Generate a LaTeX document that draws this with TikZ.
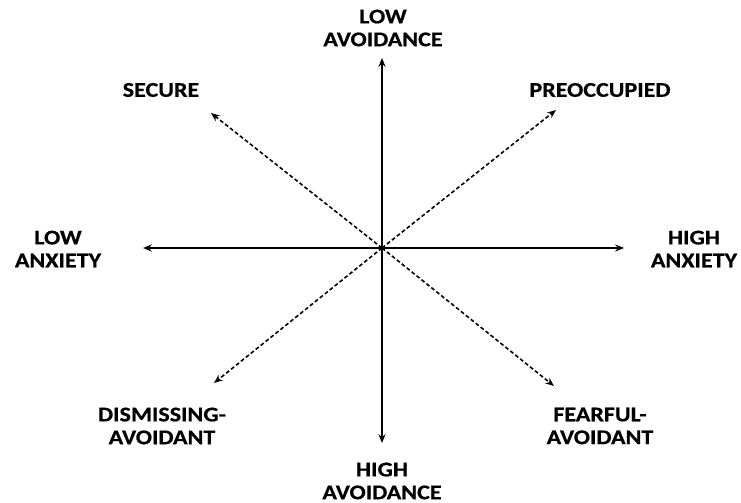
\documentclass[tikz,border=0pt]{standalone}
\usepackage{fontspec}
\setmainfont{Carlito}[FakeStretch=1.15, FakeBold=0.6]
\usetikzlibrary{arrows.meta}

\tikzset{
	axis/.style={line width=1.3pt, -{Stealth[length=5pt, width=4pt]}},
	style arrow/.style={line width=0.9pt, dashed, dash pattern=on 2.2pt off 1.4pt, -{Stealth[length=5pt, width=4pt]}},
	lbl/.style={font=\bfseries\fontsize{11.9}{13}\selectfont, align=center, inner sep=0pt}
}

\begin{document}
\begin{tikzpicture}[x=0.02cm, y=-0.02cm]
	\useasboundingbox (0, 0) rectangle (741, 503);
	% centre and arrow tips
	\coordinate (o) at (382, 248);
	\coordinate (top) at (382, 58);
	\coordinate (bottom) at (382, 443);
	\coordinate (left) at (143, 248);
	\coordinate (right) at (624, 248);
	\coordinate (nw) at (211, 113);
	\coordinate (ne) at (556, 110);
	\coordinate (sw) at (214, 383);
	\coordinate (se) at (554, 386);
	% labels
	\node[lbl] (lowav) at (383, 28) {LOW\\AVOIDANCE};
	\node[lbl] (highav) at (382, 481) {HIGH\\AVOIDANCE};
	\node[lbl] (lowanx) at (58, 249) {LOW\\ANXIETY};
	\node[lbl] (highanx) at (694, 249) {HIGH\\ANXIETY};
	\node[lbl] (secure) at (161, 90) {SECURE};
	\node[lbl] (preocc) at (600, 90) {PREOCCUPIED};
	\node[lbl] (dismiss) at (162, 426) {DISMISSING-\\AVOIDANT};
	\node[lbl] (fearful) at (600, 426) {FEARFUL-\\AVOIDANT};
	% axes
	\draw[axis] (o) -- (top);
	\draw[axis] (o) -- (bottom);
	\draw[axis] (o) -- (left);
	\draw[axis] (o) -- (right);
	% diagonals
	\draw[style arrow] (o) -- (nw);
	\draw[style arrow] (o) -- (ne);
	\draw[style arrow] (o) -- (sw);
	\draw[style arrow] (o) -- (se);
\end{tikzpicture}
\end{document}
